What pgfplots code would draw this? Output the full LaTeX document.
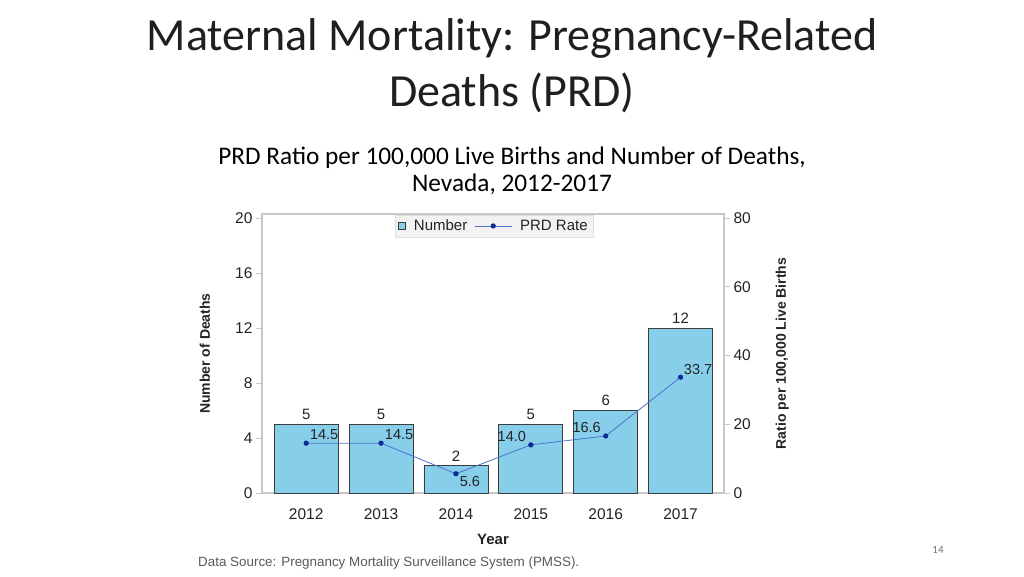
\documentclass[border=0pt]{standalone}
\usepackage{fontspec}
\setmainfont{Liberation Sans}
\newfontfamily\calib{Carlito}
\usepackage{pgfplots}
\usepackage{pgfplotstable}
\pgfplotsset{compat=1.18}
\definecolor{barblue}{RGB}{135,206,235}
\definecolor{baredge}{RGB}{60,60,60}
\definecolor{lineblue}{RGB}{75,115,205}
\definecolor{markblue}{RGB}{10,45,150}
\definecolor{framegray}{RGB}{200,200,200}
\definecolor{txt}{RGB}{35,35,35}
\pgfplotsset{
  mybarlegend/.style={legend image code/.code={\draw[##1] (0pt,-3.5pt) rectangle (7pt,3.5pt);}},
  mylinelegend/.style={legend image code/.code={\draw[mark repeat=2,mark phase=2,##1] plot coordinates {(0pt,0pt)(18.5pt,0pt)(37pt,0pt)};}},
}
\pgfplotstableread{
x year num rate dx dy
0 2012 5 14.5 18 9
1 2013 5 14.5 18 9
2 2014 2 5.6 14 -8
3 2015 5 14.0 -19 8
4 2016 6 16.6 -19 8
5 2017 12 33.7 17.5 8
}\data
\begin{document}
\begin{tikzpicture}
\path[use as bounding box] (0pt,0pt) rectangle (1024pt,-576pt);
\node[font=\calib\fontsize{46}{54}\selectfont, text=black!88, anchor=base, inner sep=0pt] at (512pt,-50pt) {Maternal Mortality: Pregnancy-Related};
\node[font=\calib\fontsize{46}{54}\selectfont, text=black!88, anchor=base, inner sep=0pt] at (512pt,-106pt) {Deaths (PRD)};
\node[font=\calib\fontsize{25.3}{30}\selectfont, text=black, anchor=base, inner sep=0pt] at (512pt,-164pt) {PRD Ratio per 100,000 Live Births and Number of Deaths,};
\node[font=\calib\fontsize{25.3}{30}\selectfont, text=black, anchor=base, inner sep=0pt] at (512pt,-191pt) {Nevada, 2012-2017};
\node[font=\fontsize{13.4}{15}\selectfont, text=black!65, anchor=west, inner sep=0pt] at (198pt,-563pt) {Data Source: Pregnancy Mortality Surveillance System (PMSS).};
\node[font=\calib\fontsize{11}{13}\selectfont, text=black!55] at (938pt,-550pt) {14};
\begin{axis}[
  at={(262pt,-493pt)}, anchor=south west,
  scale only axis, width=462pt, height=279pt,
  xmin=-0.59, xmax=5.58, ymin=0, ymax=20.29,
  axis line style={framegray, line width=1.2pt},
  xtick=data, xticklabels={2012,2013,2014,2015,2016,2017},
  xtick style={draw=none},
  xticklabel style={yshift=-6pt},
  ytick={0,4,8,12,16,20}, ytick pos=left,
  tick align=outside, major tick length=6pt,
  ytick style={framegray, line width=0.8pt},
  /pgf/number format/assume math mode=true,
  tick label style={font=\fontsize{15.5}{17}\selectfont, text=txt},
  ylabel={\bfseries Number of Deaths},
  ylabel style={at={(axis description cs:-0.1234,0.5)}, anchor=center, font=\fontsize{14}{16}\selectfont, text=txt},
  xlabel={\bfseries Year},
  xlabel style={at={(axis description cs:0.5,-0.168)}, anchor=center, font=\fontsize{15}{17}\selectfont, text=txt},
  legend style={at={(0.503,0.998)}, anchor=north, legend columns=2, fill=black!5, draw=black!12,
    font=\fontsize{15}{17}\selectfont, text=txt, inner ysep=3pt, inner xsep=3pt,
    nodes={inner xsep=3pt},
    /tikz/every odd column/.append style={column sep=5pt},
    /tikz/every even column/.append style={column sep=4pt}},
]
\addplot[ybar, bar width=64pt, fill=barblue, draw=baredge, line width=0.8pt, mybarlegend,
  nodes near coords, every node near coord/.append style={font=\fontsize{15}{17}\selectfont, text=txt, inner sep=4pt}]
  table[x=x, y=num]{\data};
\addlegendentry{Number}
\addlegendimage{draw=lineblue, line width=0.8pt, mark=*, mark size=2.2pt, mark options={fill=markblue, draw=markblue}, mylinelegend}
\addlegendentry{PRD Rate}
\end{axis}
\begin{axis}[
  at={(262pt,-493pt)}, anchor=south west,
  scale only axis, width=462pt, height=279pt,
  xmin=-0.59, xmax=5.58, ymin=0, ymax=81.16,
  axis y line*=right, axis x line=none,
  axis line style={framegray, line width=1.2pt},
  ytick={0,20,40,60,80},
  tick align=outside, major tick length=6pt,
  ytick style={framegray, line width=0.8pt},
  /pgf/number format/assume math mode=true,
  tick label style={font=\fontsize{15.5}{17}\selectfont, text=txt},
  ylabel={\bfseries Ratio per 100,000 Live Births},
  ylabel style={at={(axis description cs:1.126,0.5)}, anchor=center, font=\fontsize{14}{16}\selectfont, text=txt},
]
\addplot[draw=lineblue, line width=0.8pt, mark=*, mark size=2.2pt, mark options={fill=markblue, draw=markblue},
  visualization depends on={\thisrow{dx}\as\mydx},
  visualization depends on={\thisrow{dy}\as\mydy},
  nodes near coords, point meta=y,
  nodes near coords style={/pgf/number format/fixed, /pgf/number format/fixed zerofill, /pgf/number format/precision=1, /pgf/number format/assume math mode=true},
  every node near coord/.append style={anchor=center, xshift=\mydx pt, yshift=\mydy pt, font=\fontsize{14.5}{17}\selectfont, text=txt, inner sep=0pt}]
  table[x=x, y=rate]{\data};
\end{axis}
\end{tikzpicture}
\end{document}
